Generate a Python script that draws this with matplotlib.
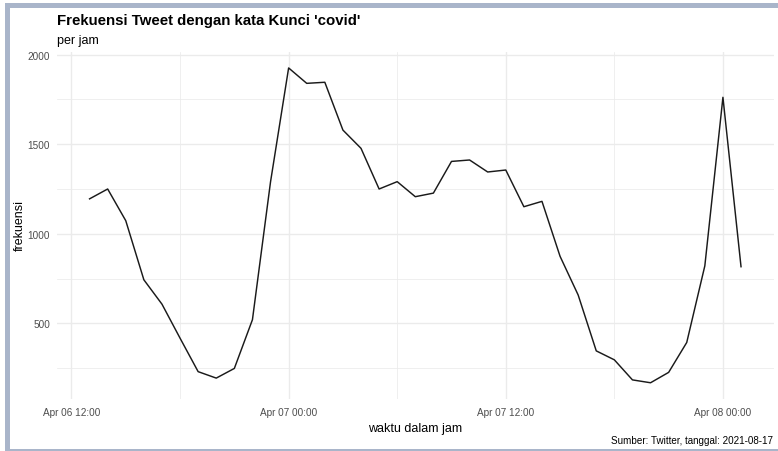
import pandas as pd
import matplotlib
matplotlib.use('Agg')
import matplotlib.pyplot as plt
import matplotlib.dates as mdates
from matplotlib.patches import Rectangle

# ---- data: hourly tweet counts ------------------------------------------------
start_hour = '2020-04-06 13:00'
frekuensi = [1195, 1250, 1073, 743, 607, 417, 230, 194, 248, 520, 1290,
             1926, 1840, 1846, 1579, 1477, 1250, 1291, 1207, 1227, 1404, 1412,
             1345, 1356, 1151, 1181, 874, 658, 346, 296, 184, 168, 226, 393,
             821, 1762, 816]
waktu = pd.date_range(start_hour, periods=len(frekuensi), freq='h')

title = "Frekuensi Tweet dengan kata Kunci 'covid'"
subtitle = 'per jam'
xlabel = 'waktu dalam jam'
ylabel = 'frekuensi'
caption = 'Sumber: Twitter, tanggal: 2021-08-17'

# ---- style ---------------------------------------------------------------------
plt.rcParams['font.family'] = ['Liberation Sans', 'DejaVu Sans']
W, H = 778, 452
grid_col = '#EBEBEB'
tick_col = '#4D4D4D'

fig = plt.figure(figsize=(W / 100, H / 100), dpi=100)
ax = fig.add_axes([57 / W, 1 - 399.5 / H, (773.6 - 57) / W, (399.5 - 53.2) / H])

ax.plot(waktu, frekuensi, color='#1a1a1a', lw=1.05)
ax.margins(x=0.05, y=0.05)

ax.xaxis.set_major_locator(mdates.HourLocator(byhour=[0, 12]))
ax.xaxis.set_minor_locator(mdates.HourLocator(byhour=[6, 18]))
ax.xaxis.set_major_formatter(mdates.DateFormatter('%b %d %H:%M'))
ax.set_yticks([500, 1000, 1500, 2000])
ax.set_yticks([250, 750, 1250, 1750], minor=True)

ax.grid(which='major', color=grid_col, lw=1.0)
ax.grid(which='minor', color=grid_col, lw=0.55)
ax.set_axisbelow(True)
for s in ax.spines.values():
    s.set_visible(False)
ax.tick_params(which='both', length=0, labelsize=7.2, labelcolor=tick_col)
ax.tick_params(axis='x', pad=6)
ax.tick_params(axis='y', pad=5)

ax.set_xlabel(xlabel, fontsize=9, labelpad=4)

# ---- titles, axis label, caption -----------------------------------------------
fig.text(19.5 / W, 1 - 226 / H, ylabel, fontsize=9, rotation=90,
         ha='center', va='center')
fig.text(57 / W, 1 - 24.5 / H, title, fontsize=10.8, fontweight='bold', va='baseline')
fig.text(57 / W, 1 - 44 / H, subtitle, fontsize=9, va='baseline')
fig.text(773 / W, 1 - 444 / H, caption, fontsize=7.1, ha='right', va='baseline')

# ---- frame around the image ----------------------------------------------------
frame_col = '#A9B5CA'
for x0, y0, w, h in [(5, 4, W - 5, 5), (5, 4, 5, H - 4), (5, 450, W - 5, 2)]:
    fig.patches.append(Rectangle((x0 / W, 1 - (y0 + h) / H), w / W, h / H,
                                 transform=fig.transFigure, color=frame_col,
                                 lw=0, zorder=5))

fig.savefig('out.png', dpi=100)
